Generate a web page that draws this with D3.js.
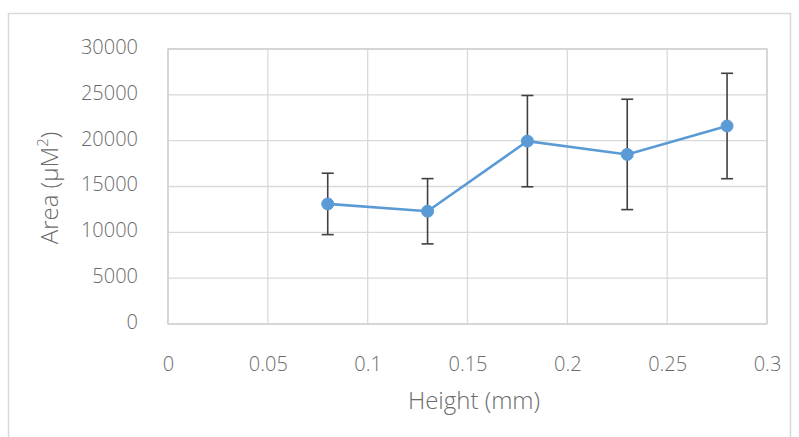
<!DOCTYPE html>
<html>
<head>
<meta charset="utf-8">
<script src="https://cdn.jsdelivr.net/npm/d3@7"></script>
<style>
  html, body { margin: 0; padding: 0; background: #fff; }
  svg { display: block; }
  text { font-family: "Open Sans", "Noto Sans", sans-serif; font-weight: 300; fill: #6b6b6b; }
</style>
</head>
<body>
<svg id="chart" width="799" height="437"></svg>
<script>
// Cell area against height, with standard deviation bars
const heights = [0.08, 0.13, 0.18, 0.23, 0.28];
const areas   = [13100, 12300, 19950, 18500, 21600];
const errors  = [3350, 3560, 4980, 6020, 5750];
const xTicks  = [0, 0.05, 0.1, 0.15, 0.2, 0.25, 0.3];
const yTicks  = [0, 5000, 10000, 15000, 20000, 25000, 30000];
const xTitle  = "Height (mm)";

const svg = d3.select("#chart");
const plot = { left: 168, right: 767, top: 49, bottom: 324 };

const x = d3.scaleLinear().domain([0, 0.3]).range([plot.left, plot.right]);
const y = d3.scaleLinear().domain([0, 30000]).range([plot.bottom, plot.top]);

// outer chart frame
svg.append("rect")
  .attr("x", 8.5).attr("y", 13.5)
  .attr("width", 782).attr("height", 440)
  .attr("fill", "#fff").attr("stroke", "#d9d9d9").attr("stroke-width", 1.5);

// gridlines
const grid = svg.append("g").attr("stroke", "#d9d9d9").attr("stroke-width", 1.3);
grid.selectAll(".gx").data(xTicks).join("line")
  .attr("x1", d => x(d)).attr("x2", d => x(d))
  .attr("y1", plot.top).attr("y2", plot.bottom);
grid.selectAll(".gy").data(yTicks).join("line")
  .attr("x1", plot.left).attr("x2", plot.right)
  .attr("y1", d => y(d)).attr("y2", d => y(d));

// plot area border
svg.append("rect")
  .attr("x", plot.left).attr("y", plot.top)
  .attr("width", plot.right - plot.left).attr("height", plot.bottom - plot.top)
  .attr("fill", "none").attr("stroke", "#cfcfcf").attr("stroke-width", 1.3);

// axes: labels only, lines are drawn by the gridlines above
const xAxis = d3.axisBottom(x).tickValues(xTicks).tickSize(0).tickPadding(0)
  .tickFormat(d => d3.format("")(+d.toFixed(2)));
const yAxis = d3.axisLeft(y).tickValues(yTicks).tickSize(0).tickPadding(0)
  .tickFormat(d3.format("d"));

const gx = svg.append("g").attr("transform", `translate(0, 357)`).call(xAxis);
gx.select(".domain").remove();
gx.selectAll("text").attr("font-size", 20).attr("fill", "#6b6b6b")
  .attr("font-family", "'Open Sans', 'Noto Sans', sans-serif").attr("font-weight", 300);

const gy = svg.append("g").attr("transform", `translate(138, -2)`).call(yAxis);
gy.select(".domain").remove();
gy.selectAll("text").attr("font-size", 20).attr("fill", "#6b6b6b")
  .attr("font-family", "'Open Sans', 'Noto Sans', sans-serif").attr("font-weight", 300);

// axis titles
svg.append("text")
  .attr("x", 474).attr("y", 409)
  .attr("text-anchor", "middle").attr("font-size", 24)
  .text(xTitle);

const yTitle = svg.append("text")
  .attr("transform", "translate(58, 188) rotate(-90)")
  .attr("text-anchor", "middle").attr("font-size", 24);
yTitle.append("tspan").text("Area (µM");
yTitle.append("tspan").attr("font-size", 15).attr("dy", -10).text("2");
yTitle.append("tspan").attr("dy", 10).text(")");

// data rows
const rows = heights.map((h, i) => ({ h, a: areas[i], e: errors[i] }));

// line
svg.append("path")
  .datum(rows)
  .attr("fill", "none").attr("stroke", "#5b9bd5").attr("stroke-width", 2.6)
  .attr("d", d3.line().x(d => x(d.h)).y(d => y(d.a)));

// error bars
const eb = svg.append("g").attr("stroke", "#404040").attr("stroke-width", 1.6);
eb.selectAll(".v").data(rows).join("line")
  .attr("x1", d => x(d.h)).attr("x2", d => x(d.h))
  .attr("y1", d => y(d.a - d.e)).attr("y2", d => y(d.a + d.e));
eb.selectAll(".t").data(rows).join("line")
  .attr("x1", d => x(d.h) - 6).attr("x2", d => x(d.h) + 6)
  .attr("y1", d => y(d.a + d.e)).attr("y2", d => y(d.a + d.e));
eb.selectAll(".b").data(rows).join("line")
  .attr("x1", d => x(d.h) - 6).attr("x2", d => x(d.h) + 6)
  .attr("y1", d => y(d.a - d.e)).attr("y2", d => y(d.a - d.e));

// markers
svg.append("g").selectAll("circle").data(rows).join("circle")
  .attr("cx", d => x(d.h)).attr("cy", d => y(d.a)).attr("r", 6)
  .attr("fill", "#5b9bd5").attr("stroke", "#5b9bd5").attr("stroke-width", 1);
</script>
</body>
</html>
